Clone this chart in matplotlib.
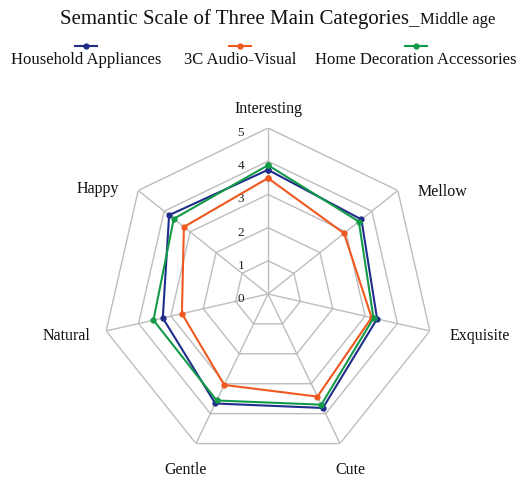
import numpy as np
import matplotlib
matplotlib.use("Agg")
import matplotlib.pyplot as plt
from matplotlib.lines import Line2D

plt.rcParams["font.family"] = ["Liberation Serif", "DejaVu Serif"]

categories = ["Interesting", "Mellow", "Exquisite", "Cute", "Gentle", "Natural", "Happy"]
household = [3.74, 3.60, 3.37, 3.81, 3.66, 3.25, 3.81]
audio_visual = [3.49, 2.93, 3.20, 3.43, 3.04, 2.66, 3.24]
home_deco = [3.88, 3.50, 3.26, 3.70, 3.56, 3.54, 3.63]
series_names = ["Household Appliances", "3C Audio-Visual", "Home Decoration Accessories"]
ring_values = [0, 1, 2, 3, 4, 5]

colors = ["#1f2d8a", "#f0581f", "#139a48"]
grid_color = "#bdbdbd"

W, H = 531, 479
fig = plt.figure(figsize=(W / 100, H / 100), dpi=100)

# polar axes centred at (268, 294) px, radius 166 px for value 5
cx, cy, R = 268, 294, 166
ax = fig.add_axes([(cx - R) / W, (H - cy - R) / H, 2 * R / W, 2 * R / H], projection="polar")
ax.set_theta_offset(np.pi / 2)
ax.set_theta_direction(-1)
ax.set_ylim(0, 5)
ax.grid(False)
ax.set_xticks([])
ax.set_yticks([])
ax.spines["polar"].set_visible(False)
ax.patch.set_alpha(0)

n = len(categories)
angles = np.linspace(0, 2 * np.pi, n, endpoint=False)
closed = np.concatenate([angles, angles[:1]])

# heptagon grid
for v in ring_values[1:]:
    ax.plot(closed, [v] * (n + 1), color=grid_color, lw=1.0, zorder=1)
for a in angles:
    ax.plot([a, a], [0, 5], color=grid_color, lw=1.0, zorder=1)

# radial value labels
for v in ring_values:
    ax.annotate(str(v), xy=(0, v), xytext=(-27, -5), textcoords="offset pixels",
                ha="center", va="center", fontsize=9.5, color="#222222")

# category labels
label_offsets = [(0, 19), (45, -1), (50, -5), (10, -26), (-10, -26), (-40, -5), (-40, 2)]
for a, name, off in zip(angles, categories, label_offsets):
    ax.annotate(name, xy=(a, 5), xytext=off, textcoords="offset pixels",
                ha="center", va="center", fontsize=11.5, color="#111111")

# series
for vals, col in zip([household, audio_visual, home_deco], colors):
    v = list(vals) + [vals[0]]
    ax.plot(closed, v, color=col, lw=1.5, marker="o", markersize=3.5, zorder=3)

# title
t1 = fig.text(60 / W, 1 - 24 / H, "Semantic Scale of Three Main Categories_", fontsize=15,
              ha="left", va="baseline", color="#111111")
fig.canvas.draw()
bb = t1.get_window_extent()
fig.text(bb.x1 / W, 1 - 24 / H, "Middle age", fontsize=12, ha="left", va="baseline",
         color="#111111")

# legend: marker line above the label
legend_x = [86, 240, 416]
for name, col, lx in zip(series_names, colors, legend_x):
    fig.add_artist(Line2D([(lx - 11) / W, (lx + 11) / W], [1 - 45.5 / H] * 2, color=col, lw=1.5,
                          transform=fig.transFigure))
    fig.add_artist(Line2D([lx / W], [1 - 45.5 / H], color=col, marker="o", markersize=3.5,
                          transform=fig.transFigure))
    fig.text(lx / W, 1 - 60 / H, name, fontsize=12, ha="center", va="center", color="#111111")

fig.savefig("out.png", dpi=100)
